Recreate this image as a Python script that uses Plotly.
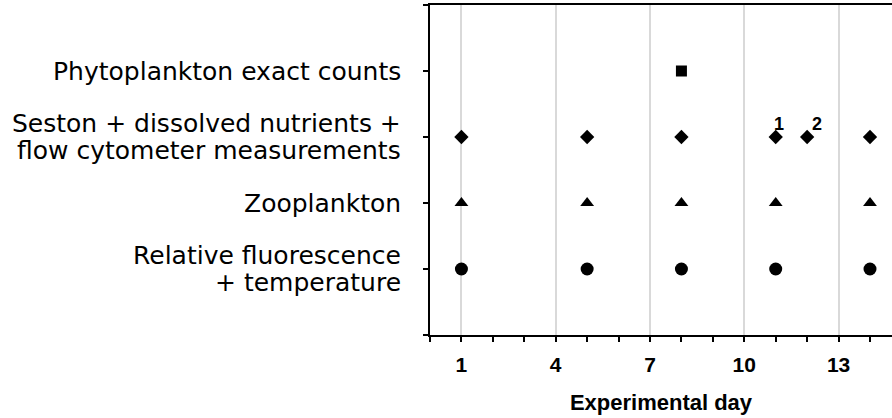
import plotly.graph_objects as go

# ---- data ----
row_labels = [
    ["Relative fluorescence", "+ temperature"],
    ["Zooplankton"],
    ["Seston + dissolved nutrients +", "flow cytometer measurements"],
    ["Phytoplankton exact counts"],
]
row_pos = [1, 2, 3, 4]

fluor_days = [1, 5, 8, 11, 14]
zoo_days = [1, 5, 8, 11, 14]
seston_days = [1, 5, 8, 11, 12, 14]
phyto_days = [8]

note_days = [11, 12]
note_text = ["1", "2"]

x_tickvals = [1, 4, 7, 10, 13]
x_ticktext = ["1", "4", "7", "10", "13"]
x_title = "Experimental day"

FONT = "Liberation Sans, Arial, sans-serif"
LABEL_FONT = "DejaVu Sans, sans-serif"

fig = go.Figure()

series = [
    (fluor_days, 1, "circle", 13),
    (zoo_days, 2, "triangle-up", 12),
    (seston_days, 3, "diamond", 11),
    (phyto_days, 4, "square", 11),
]
for days, row, sym, size in series:
    fig.add_trace(go.Scatter(
        x=days, y=[row] * len(days), mode="markers",
        marker=dict(symbol=sym, size=size, color="black", line=dict(width=0)),
        showlegend=False, hoverinfo="skip", cliponaxis=False,
    ))

# numbered notes on seston row
note_shift = [3, 10]
for d, t, xs in zip(note_days, note_text, note_shift):
    fig.add_annotation(x=d, y=3, text=t, showarrow=False, xshift=xs, yshift=13,
                       font=dict(family=FONT, size=18, color="black", weight="bold"))

# row labels as annotations (right aligned next to axis)
for lines, yv in zip(row_labels, row_pos):
    n = len(lines)
    for i, ln in enumerate(lines):
        shift = 0 if n == 1 else (13.5 if i == 0 else -13.5)
        fig.add_annotation(x=0, xref="paper", y=yv, yref="y", text=ln, showarrow=False,
                           xanchor="right", yanchor="middle", xshift=-27, yshift=shift,
                           font=dict(family=LABEL_FONT, size=25, color="black"))

fig.update_layout(
    width=892, height=418,
    margin=dict(l=430, r=0, t=5, b=83),
    paper_bgcolor="white", plot_bgcolor="white",
    font=dict(family=FONT, color="black"),
)
fig.update_xaxes(
    range=[0, 14.7], tickvals=x_tickvals, ticktext=x_ticktext,
    showgrid=True, gridcolor="#d9d9d9", gridwidth=1.5,
    showline=True, linecolor="black", linewidth=2, mirror=True,
    ticks="outside", ticklen=5, tickwidth=2, tickcolor="black",
    minor=dict(tickvals=list(range(0, 15)), ticks="outside", ticklen=5, tickwidth=2,
               tickcolor="black", showgrid=False),
    tickfont=dict(family=FONT, size=21, color="black", weight="bold"),
    ticklabelstandoff=5,
    title=dict(text=x_title, font=dict(family=FONT, size=22, color="black", weight="bold"),
               standoff=19),
    zeroline=False,
)
fig.update_yaxes(
    range=[0, 5], tickvals=[0, 1, 2, 3, 4, 5], showticklabels=False,
    showgrid=False, zeroline=False,
    showline=True, linecolor="black", linewidth=2,
    ticks="outside", ticklen=5, tickwidth=2, tickcolor="black",
)

fig.write_html("out.html", config={"displayModeBar": False},
               post_script="document.body.style.margin='0';document.body.style.overflow='hidden';")
